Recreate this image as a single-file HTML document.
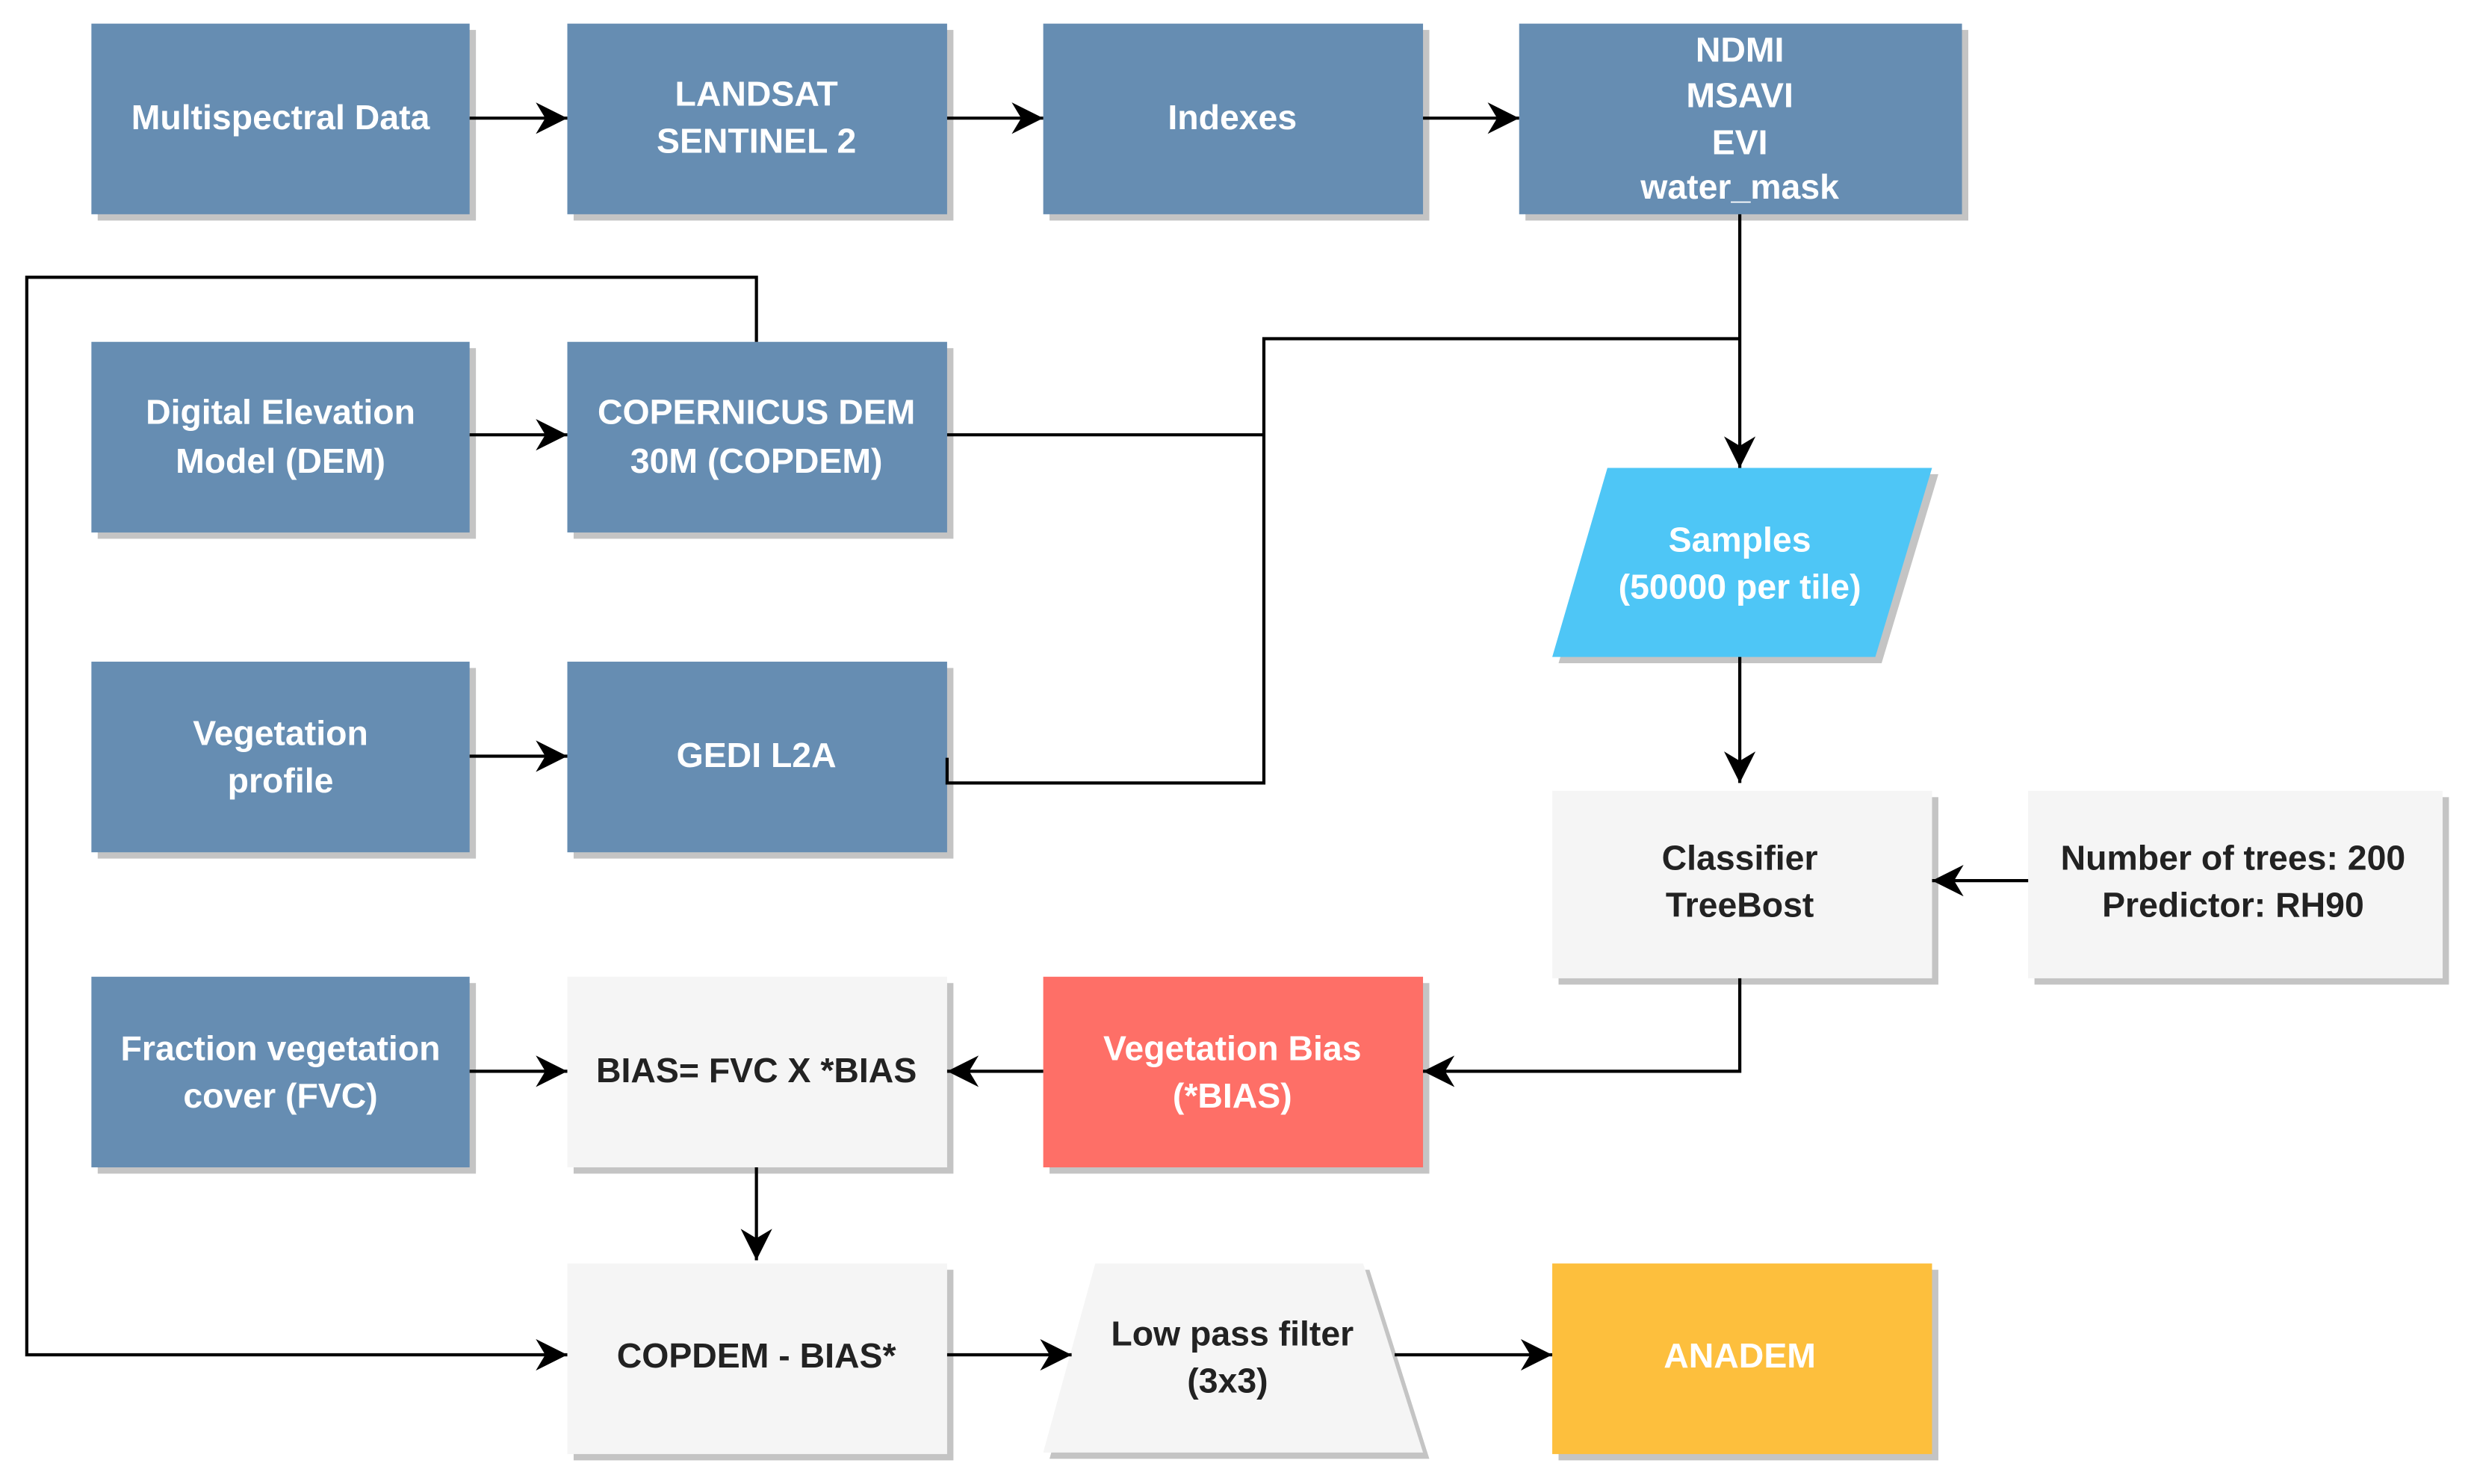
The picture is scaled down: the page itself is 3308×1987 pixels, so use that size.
<!DOCTYPE html>
<html><head><meta charset="utf-8"><style>
html,body{margin:0;padding:0;background:#fff;}
svg{display:block;}
text{font-family:"Liberation Sans",Arial,sans-serif;font-weight:bold;font-size:22px;text-anchor:middle;}
.w{fill:#fff;} .d{fill:#222;}
</style></head><body>
<svg width="3308" height="1987" viewBox="0 0 1568 942" preserveAspectRatio="none" xmlns="http://www.w3.org/2000/svg">
<defs>
<marker id="b" viewBox="0 0 10 10" refX="10" refY="5" markerWidth="20" markerHeight="20" markerUnits="userSpaceOnUse" orient="auto"><path d="M0,0 L10,5 L0,10 L3,5 z" fill="#000"/></marker>
</defs>
<g fill="#c4c4c4">
<rect x="62" y="19" width="240" height="121"/><rect x="364" y="19" width="241" height="121"/><rect x="666" y="19" width="241" height="121"/><rect x="968" y="19" width="281" height="121"/>
<rect x="62" y="221" width="240" height="121"/><rect x="364" y="221" width="241" height="121"/>
<rect x="62" y="424" width="240" height="121"/><rect x="364" y="424" width="241" height="121"/>
<rect x="62" y="624" width="240" height="121"/><rect x="364" y="624" width="241" height="121"/><rect x="666" y="624" width="241" height="121"/>
<rect x="989" y="506" width="241" height="119"/><rect x="1291" y="506" width="263" height="119"/>
<rect x="364" y="806" width="241" height="121"/><rect x="989" y="806" width="241" height="121"/>
<polygon points="1024,301 1230,301 1194,421 989,421"/>
<polygon points="699,806 869,806 907,926 666,926"/>
</g>
<g fill="#668db2">
<rect x="58" y="15" width="240" height="121"/><rect x="360" y="15" width="241" height="121"/><rect x="662" y="15" width="241" height="121"/><rect x="964" y="15" width="281" height="121"/>
<rect x="58" y="217" width="240" height="121"/><rect x="360" y="217" width="241" height="121"/>
<rect x="58" y="420" width="240" height="121"/><rect x="360" y="420" width="241" height="121"/>
<rect x="58" y="620" width="240" height="121"/>
</g>
<rect x="360" y="620" width="241" height="121" fill="#f5f5f5"/>
<rect x="662" y="620" width="241" height="121" fill="#fe6f67"/>
<rect x="985" y="502" width="241" height="119" fill="#f5f5f5"/>
<rect x="1287" y="502" width="263" height="119" fill="#f5f5f5"/>
<rect x="360" y="802" width="241" height="121" fill="#f5f5f5"/>
<rect x="985" y="802" width="241" height="121" fill="#fdbf3d"/>
<polygon points="1020,297 1226,297 1190,417 985,417" fill="#4ec6f6"/>
<polygon points="695,802 865,802 903,922 662,922" fill="#f5f5f5"/>
<g stroke="#000" stroke-width="2" fill="none">
<line x1="298" y1="75" x2="360" y2="75" marker-end="url(#b)"/>
<line x1="601" y1="75" x2="662" y2="75" marker-end="url(#b)"/>
<line x1="903" y1="75" x2="964" y2="75" marker-end="url(#b)"/>
<line x1="1104" y1="136" x2="1104" y2="297" marker-end="url(#b)"/>
<polyline points="1104,215 802,215 802,497 601,497 601,481"/>
<line x1="601" y1="276" x2="802" y2="276"/>
<polyline points="480,217 480,176 17,176 17,860 360,860" marker-end="url(#b)"/>
<line x1="298" y1="276" x2="360" y2="276" marker-end="url(#b)"/>
<line x1="298" y1="480" x2="360" y2="480" marker-end="url(#b)"/>
<line x1="298" y1="680" x2="360" y2="680" marker-end="url(#b)"/>
<line x1="1104" y1="417" x2="1104" y2="497" marker-end="url(#b)"/>
<line x1="1287" y1="559" x2="1226" y2="559" marker-end="url(#b)"/>
<polyline points="1104,621 1104,680 903,680" marker-end="url(#b)"/>
<line x1="662" y1="680" x2="601" y2="680" marker-end="url(#b)"/>
<line x1="480" y1="741" x2="480" y2="800" marker-end="url(#b)"/>
<line x1="601" y1="860" x2="680" y2="860" marker-end="url(#b)"/>
<line x1="885" y1="860" x2="985" y2="860" marker-end="url(#b)"/>
</g>
<g class="w">
<text x="178" y="82" class="w">Multispectral Data</text>
<text x="480" y="67" class="w">LANDSAT</text><text x="480" y="97" class="w">SENTINEL 2</text>
<text x="782" y="82" class="w">Indexes</text>
<text x="1104" y="39" class="w">NDMI</text><text x="1104" y="68" class="w">MSAVI</text><text x="1104" y="98" class="w">EVI</text><text x="1104" y="126" class="w">water_mask</text>
<text x="178" y="269" class="w">Digital Elevation</text><text x="178" y="300" class="w">Model (DEM)</text>
<text x="480" y="269" class="w">COPERNICUS DEM</text><text x="480" y="300" class="w">30M (COPDEM)</text>
<text x="178" y="473" class="w">Vegetation</text><text x="178" y="503" class="w">profile</text>
<text x="480" y="487" class="w">GEDI L2A</text>
<text x="178" y="673" class="w">Fraction vegetation</text><text x="178" y="703" class="w">cover (FVC)</text>
<text x="782" y="673" class="w">Vegetation Bias</text><text x="782" y="703" class="w">(*BIAS)</text>
<text x="1104" y="350" class="w">Samples</text><text x="1104" y="380" class="w">(50000 per tile)</text>
<text x="1104" y="868" class="w">ANADEM</text>
</g>
<text x="480" y="687" class="d">BIAS= FVC X *BIAS</text>
<text x="1104" y="552" class="d">Classifier</text><text x="1104" y="582" class="d">TreeBost</text>
<text x="1417" y="552" class="d">Number of trees: 200</text><text x="1417" y="582" class="d">Predictor: RH90</text>
<text x="480" y="868" class="d" fill="#000">COPDEM - BIAS*</text>
<text x="782" y="854" class="d">Low pass filter</text><text x="779" y="884" class="d">(3x3)</text>
</svg>
</body></html>
